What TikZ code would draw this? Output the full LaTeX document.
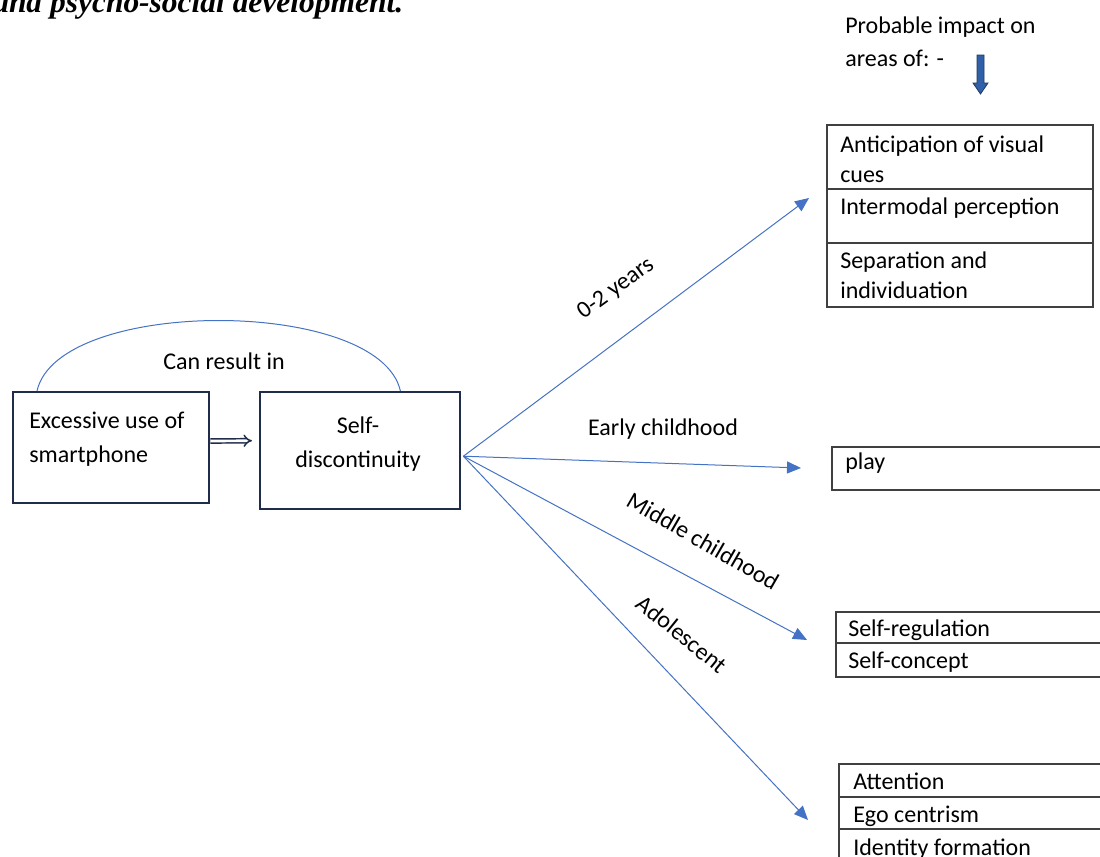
\documentclass[tikz,border=0pt]{standalone}
\usepackage{fontspec}
\setmainfont{Carlito}
\newfontfamily\headfont{Liberation Serif}
\usetikzlibrary{arrows.meta}
\definecolor{flowblue}{HTML}{4472C4}
\definecolor{boxnavy}{HTML}{1F2D4A}
\definecolor{cellgray}{HTML}{404040}
\definecolor{darkblue}{HTML}{3060A8}
\definecolor{edgeblue}{HTML}{1F3864}

\begin{document}
\begin{tikzpicture}[x=0.75pt,y=-0.75pt,
  every node/.style={font=\fontsize{18}{23}\selectfont,inner sep=0pt},
  box/.style={draw=boxnavy,line width=1.8pt,anchor=north west},
  cell/.style={draw=cellgray,line width=0.8pt},
  flow/.style={draw=flowblue,line width=0.75pt,-{Triangle[length=10.5pt,width=9pt]}},
  txt/.style={anchor=base west}]
\useasboundingbox (0,0) rectangle (1100,857);
% heading, cut at the top of the page
\node[txt,font=\headfont\fontsize{23.6}{28}\selectfont\bfseries\itshape] (title) at (-7,12) {and psycho-social development.};
% left part
\node[box,minimum width=147pt,minimum height=83.25pt] (exc) at (12,391) {};
\node[box,minimum width=150pt,minimum height=87.75pt] (selfd) at (259,391) {};
\node[txt] (exc1) at (29,428) {Excessive use of};
\node[txt] (exc2) at (29,462) {smartphone};
\node[anchor=base] (sd1) at (358,433) {Self-};
\node[anchor=base] (sd2) at (358,467) {discontinuity};
\draw[flowblue,line width=0.75pt] ([shift={(25,0)}]exc.north west) .. controls +(21,-94) and +(-21,-94) .. ([shift={(-61,0)}]selfd.north east);
\node[anchor=base] (can) at (224,369) {Can result in};
\draw[boxnavy,line width=1.1pt,double=white,double distance=2pt,-{Implies}] ([yshift=5pt]exc.east) -- ([shift={(-7,-10)}]selfd.west);
% fan of stages
\coordinate (fan) at ([shift={(2,5.5)}]selfd.east);
\coordinate (tip1) at (809,198);
\coordinate (tip2) at (801,468);
\coordinate (tip3) at (807,640);
\coordinate (tip4) at (808,820);
\draw[flow] (fan) -- (tip1);
\draw[flow] (fan) -- (tip2);
\draw[flow] (fan) -- (tip3);
\draw[flow] (fan) -- (tip4);
\node[rotate=36] (st1) at (616,289) {0-2 years};
\node[anchor=base] (st2) at (663,435) {Early childhood};
\node[rotate=-30] (st3) at (703,541) {Middle childhood};
\node[rotate=-39] (st4) at (682,634) {Adolescent};
% areas of impact
\node[txt] (hd1) at (845,33) {Probable impact on};
\node[txt] (hd2) at (845,66) {areas of: -};
\filldraw[fill=darkblue,draw=edgeblue,line width=0.6pt] (977,55) -- (984,55) -- (984,83) -- (988,83) -- (980.5,94) -- (973,83) -- (977,83) -- cycle;
\draw[cell] (827,125) rectangle (1093,307);
\draw[cell] (827,189) -- (1093,189);
\draw[cell] (827,243) -- (1093,243);
\node[txt] (a1) at (840,152) {Anticipation of visual};
\node[txt] (a2) at (840,182) {cues};
\node[txt] (a3) at (840,214) {Intermodal perception};
\node[txt] (a4) at (840,268) {Separation and};
\node[txt] (a5) at (840,298) {individuation};
\draw[cell] (1105,447) -- (832,447) -- (832,490) -- (1105,490);
\node[txt] (b1) at (845,469) {play};
\draw[cell] (1105,612) -- (836,612) -- (836,677) -- (1105,677);
\draw[cell] (836,643) -- (1105,643);
\node[txt] (c1) at (848,636) {Self-regulation};
\node[txt] (c2) at (848,668) {Self-concept};
\draw[cell] (1105,764) -- (839,764) -- (839,862);
\draw[cell] (839,797) -- (1105,797);
\draw[cell] (839,829) -- (1105,829);
\node[txt] (d1) at (853,789) {Attention};
\node[txt] (d2) at (853,822) {Ego centrism};
\node[txt] (d3) at (853,855) {Identity formation};
\end{tikzpicture}
\end{document}
